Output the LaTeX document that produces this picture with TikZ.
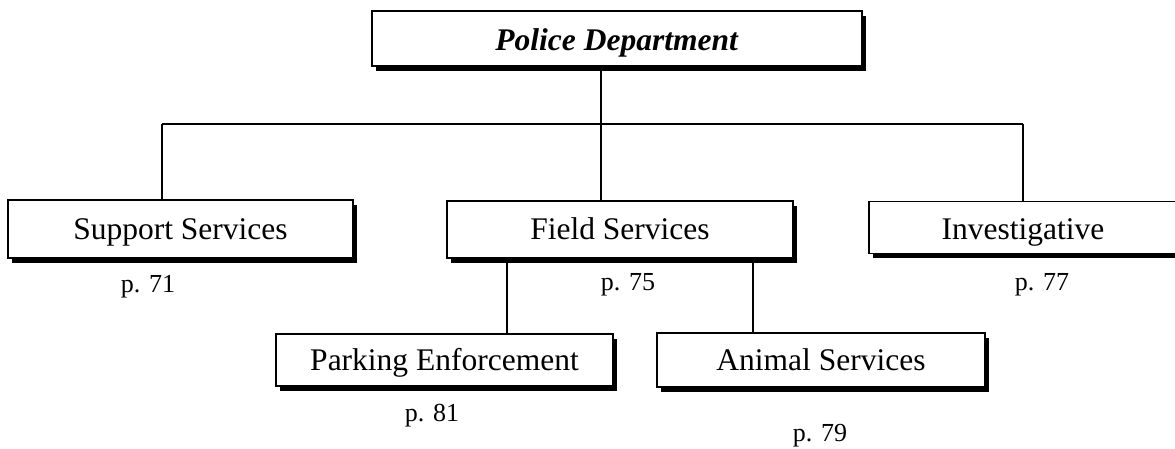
\documentclass[tikz,border=0pt]{standalone}
\usepackage{fontspec}
\setmainfont{Liberation Serif}
\usetikzlibrary{shadows}
\begin{document}
\begin{tikzpicture}[x=1pt,y=-1pt,
  orgbox/.style={draw=black, line width=1.6pt, fill=white, inner sep=0pt,
    minimum width=#1, font=\fontsize{31.5}{36}\selectfont,
    text height=24pt, text depth=4pt,
    drop shadow={shadow xshift=4pt, shadow yshift=-4.5pt, fill=black, opacity=1}},
  conn/.style={draw=black, line width=1.6pt},
  pagelabel/.style={font=\fontsize{26}{30}\selectfont, inner sep=0pt}]
\useasboundingbox (0,0) rectangle (1175,448);
% boxes
\node[orgbox=490pt, minimum height=55pt, text height=25pt, text depth=2pt] (pd) at (617,38.5) {\textbf{\textit{Police Department}}};
\node[orgbox=345pt, minimum height=58pt] (ss) at (180.5,229) {Support Services};
\node[orgbox=346pt, minimum height=57pt] (fs) at (620,229.5) {Field Services};
\node[orgbox=308pt, minimum height=52pt, text height=26pt, text depth=2pt] (inv) at (1023,227.5) {Investigative};
\node[orgbox=337pt, minimum height=52pt] (pe) at (444.5,360) {Parking Enforcement};
\node[orgbox=328pt, minimum height=54pt] (as) at (821,360) {Animal Services};
% junction coordinates
\coordinate (jl) at (162,124);
\coordinate (jc) at (601,124);
\coordinate (jr) at (1023,124);
% connectors
\draw[conn] (pd.south -| jc) -- (fs.north -| jc);
\draw[conn] (jl) -- (jr);
\draw[conn] (jl) -- (ss.north -| jl);
\draw[conn] (jr) -- (inv.north);
\coordinate (fl) at (507,258);
\coordinate (fr) at (753,258);
\draw[conn] (fs.south -| fl) -- (pe.north -| fl);
\draw[conn] (fs.south -| fr) -- (as.north -| fr);
% page labels
\node[pagelabel] (l71) at (148,287) {p. 71};
\node[pagelabel] (l75) at (628,285) {p. 75};
\node[pagelabel] (l77) at (1042,285) {p. 77};
\node[pagelabel] (l81) at (432,416) {p. 81};
\node[pagelabel] (l79) at (820,436) {p. 79};
\end{tikzpicture}
\end{document}
